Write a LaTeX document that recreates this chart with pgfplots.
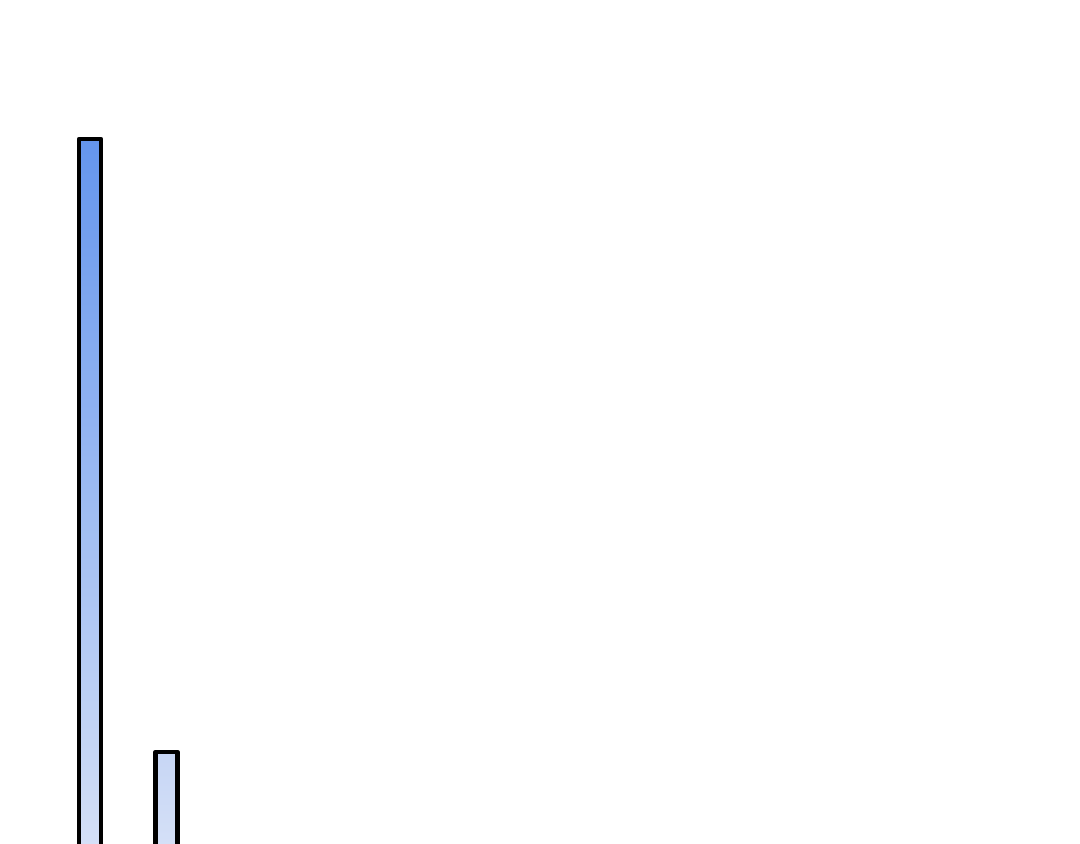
\documentclass[border=0pt]{standalone}
\usepackage{pgfplots}
\pgfplotsset{compat=1.18}
\definecolor{barTop}{RGB}{100,149,237}
\definecolor{barBot}{RGB}{214,225,247}
\definecolor{barMid}{RGB}{199,214,245}
\begin{document}
\begin{tikzpicture}
\begin{axis}[
  width=540bp, height=422bp, scale only axis,
  axis lines=none, ticks=none,
  xmin=0, xmax=1080, ymin=0, ymax=844,
  clip=true,
]
% bar 1 (extends below the visible area)
\addplot[draw=black, line width=2.3bp, line join=round, top color=barTop, bottom color=barBot]
  coordinates {(79,-12) (79,705) (101,705) (101,-12)};
% bar 2
\addplot[draw=black, line width=2.3bp, line join=round, top color=barMid, bottom color=barBot]
  coordinates {(155.5,-12) (155.5,92) (177.5,92) (177.5,-12)};
\end{axis}
\path[use as bounding box] (current axis.south west) rectangle (current axis.north east);
\end{tikzpicture}
\end{document}
